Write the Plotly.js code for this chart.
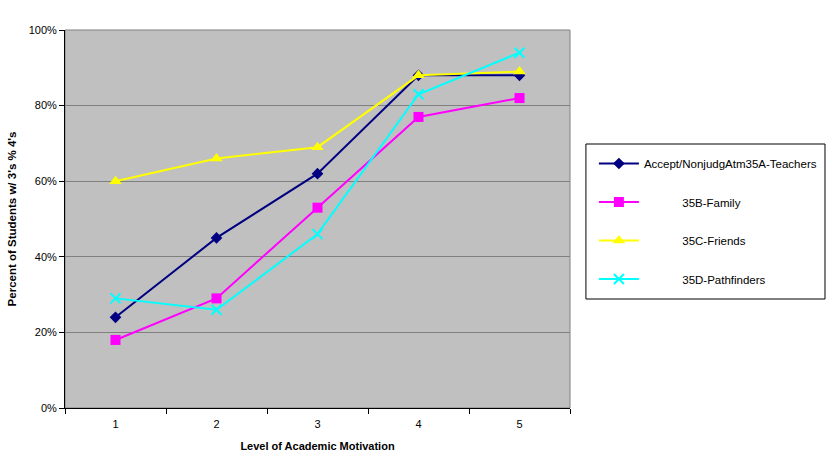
<!DOCTYPE html>
<html><head><meta charset="utf-8">
<script src="https://cdn.plot.ly/plotly-3.0.1.min.js"></script>
<style>body{margin:0;background:#fff}#chart{width:834px;height:452px}</style>
</head><body><div id="chart"></div>
<script>
const levels = ['1', '2', '3', '4', '5'];
const seriesNames = ['Accept/NonjudgAtm35A-Teachers', '35B-Family', '35C-Friends', '35D-Pathfinders'];
const teachers = [0.24, 0.45, 0.62, 0.88, 0.88];
const family = [0.18, 0.29, 0.53, 0.77, 0.82];
const friends = [0.60, 0.66, 0.69, 0.88, 0.89];
const pathfinders = [0.29, 0.26, 0.46, 0.83, 0.94];
const yTicks = [0, 0.2, 0.4, 0.6, 0.8, 1.0];
const yTickText = ['0%', '20%', '40%', '60%', '80%', '100%'];

const pad = '\u00A0'.repeat(12);
const specs = [
  {y: teachers, color: '#000080', symbol: 'diamond', size: 9, label: seriesNames[0]},
  {y: family, color: '#FF00FF', symbol: 'square', size: 10, label: pad + seriesNames[1]},
  {y: friends, color: '#FFFF00', symbol: 'triangle-up', size: 11, label: pad + seriesNames[2]},
  {y: pathfinders, color: '#00FFFF', symbol: 'x-thin-open', size: 10, label: pad + seriesNames[3]}
];
const traces = specs.map((s, i) => ({
  type: 'scatter', mode: 'lines+markers', x: levels, y: s.y, name: s.label,
  legendgroup: 'g' + i,
  line: {color: s.color, width: 2},
  marker: {symbol: s.symbol, size: s.size, color: s.color, line: {color: s.color, width: s.symbol === 'x-thin-open' ? 2 : 0}}
}));

const W = 507, H = 378, L = 65, T = 30;
const px = v => (v - L) / W;
const py = v => (T + H - v) / H;

const layout = {
  width: 834, height: 452,
  margin: {l: 65, r: 262, t: 30, b: 44},
  paper_bgcolor: '#ffffff', plot_bgcolor: '#C0C0C0',
  font: {family: 'Liberation Sans, Arial, sans-serif', size: 11, color: '#000'},
  showlegend: true,
  legend: {x: px(596), y: py(149), xanchor: 'left', yanchor: 'top', bgcolor: 'rgba(0,0,0,0)', borderwidth: 0,
    tracegroupgap: 19.5, itemwidth: 40, font: {size: 11.5}},
  xaxis: {type: 'category', range: [-0.5, 4.5], tickson: 'boundaries', ticks: 'outside', ticklen: 5, tickcolor: '#000',
    showline: true, linecolor: '#000', linewidth: 1, showgrid: false, zeroline: false, fixedrange: true,
    ticklabelstandoff: 6,
    tickfont: {size: 11}, title: {text: 'Level of Academic Motivation', font: {size: 11, weight: 'bold'}, standoff: 14}},
  yaxis: {range: [0, 1], tickvals: yTicks, ticktext: yTickText, ticks: 'outside', ticklen: 5, tickcolor: '#000',
    showline: true, linecolor: '#000', linewidth: 1, showgrid: true, gridcolor: '#808080', gridwidth: 1, zeroline: false,
    tickfont: {size: 11}, title: {text: "Percent of Students w/ 3's % 4's", font: {size: 11.5, weight: 'bold'}, standoff: 9}},
  shapes: [
    {type: 'rect', xref: 'paper', yref: 'paper', x0: 0, x1: 1, y0: 0, y1: 1, line: {color: '#808080', width: 1}, layer: 'below'},
    {type: 'rect', xref: 'paper', yref: 'paper', x0: px(588), x1: px(828), y0: py(299), y1: py(144), line: {color: '#000', width: 1}, fillcolor: '#fff', layer: 'above'}
  ]
};
Plotly.newPlot('chart', traces, layout, {displayModeBar: false, staticPlot: true});
</script></body></html>
